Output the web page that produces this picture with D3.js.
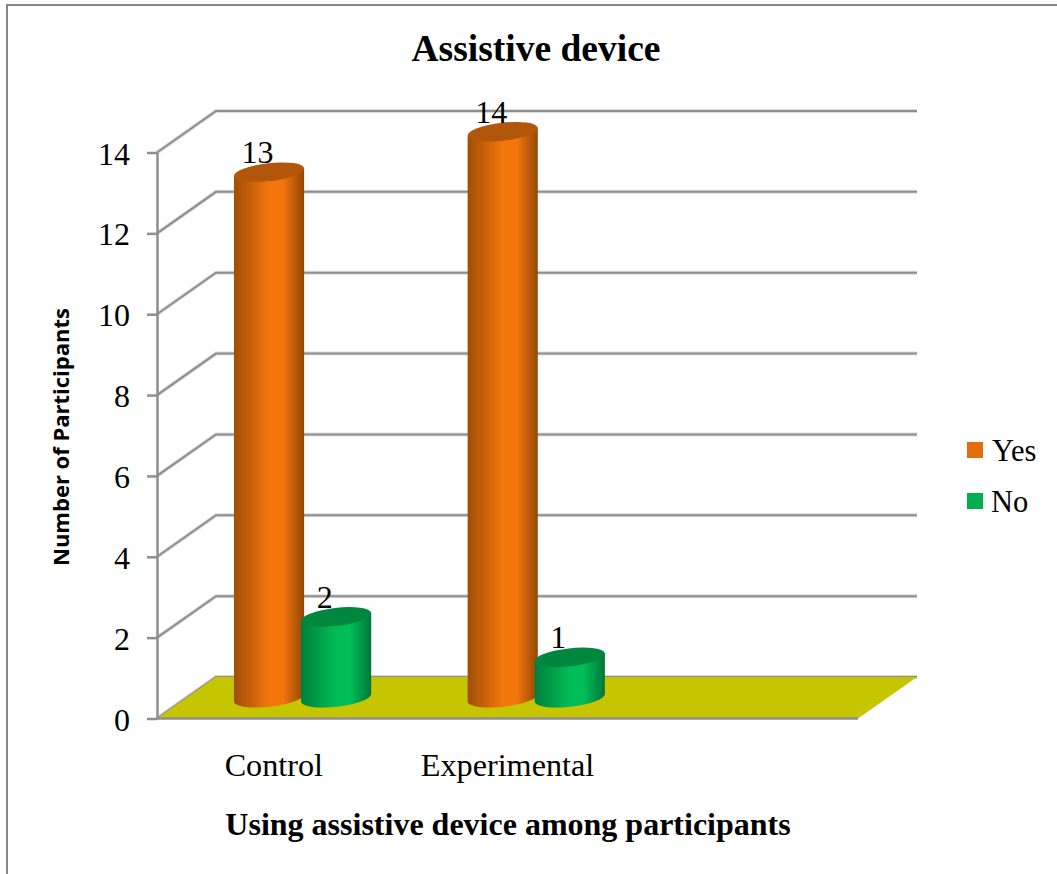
<!DOCTYPE html>
<html>
<head>
<meta charset="utf-8">
<script src="https://cdnjs.cloudflare.com/ajax/libs/d3/7.8.5/d3.min.js"></script>
<style>
html,body{margin:0;padding:0;background:#fff;overflow:hidden}
svg{display:block}
text{fill:#000}
.serif{font-family:"Liberation Serif","Times New Roman",serif}
</style>
</head>
<body>
<svg id="chart" width="1057" height="874"></svg>
<script>
// Chart content
const chartTitle = "Assistive device";
const xTitle = "Using assistive device among participants";
const yTitle = "Number of Participants";
const categories = ["Control", "Experimental", ""];
const seriesNames = ["Yes", "No"];
const yesValues = [13, 14];
const noValues = [2, 1];
const yTicks = [0, 2, 4, 6, 8, 10, 12, 14];

const seriesStyle = {
  Yes: {swatch: "#e46c0a", top: "#b25709", edge: "#a04e06", mid: "#f3750c", edgeR: "#934704"},
  No:  {swatch: "#00b050", top: "#00873f", edge: "#007f3b", mid: "#00bd57", edgeR: "#00773a"}
};

const svg = d3.select("#chart");

// Oblique projection: the front plane plus a depth vector for the back wall
const front = {left: 157, right: 858, bottom: 718.5, top: 152.5};
const depth = {dx: 59, dy: -41.5};
const x = d3.scaleBand().domain(categories).range([front.left, front.right]);
const y = d3.scaleLinear().domain([0, 14]).range([front.bottom, front.top]);

// Chart-area frame (top and left edges are the visible ones)
svg.append("path")
  .attr("d", "M7,874V5H1057")
  .attr("fill", "none").attr("stroke", "#878787").attr("stroke-width", 2);

const defs = svg.append("defs");
seriesNames.forEach(name => {
  const s = seriesStyle[name];
  const g = defs.append("linearGradient").attr("id", "cyl-" + name);
  [[0, s.edge], [0.5, s.mid], [0.7, s.mid], [1, s.edgeR]].forEach(([o, c]) =>
    g.append("stop").attr("offset", o).attr("stop-color", c));
});

// Wall gridlines, each with a soft pale halo
const wall = svg.append("g").attr("fill", "none");
const wallPath = v => `M${front.left},${y(v)}L${front.left + depth.dx},${y(v) + depth.dy}H${front.right + depth.dx}`;
[["#dcdcdc", 4], ["#8e8e8e", 2]].forEach(([stroke, w]) => {
  wall.selectAll(null).data(yTicks).join("path")
    .attr("d", wallPath).attr("stroke", stroke).attr("stroke-width", w);
});

// Floor
svg.append("path")
  .attr("d", `M${front.left},${y(0)}L${front.left + depth.dx},${y(0) + depth.dy}H${front.right + depth.dx}L${front.right},${y(0)}Z`)
  .attr("fill", "#c5c500");

// Value axis
const yAxis = svg.append("g")
  .attr("class", "serif")
  .attr("transform", `translate(${front.left},0)`)
  .call(d3.axisLeft(y).tickValues(yTicks).tickSize(10).tickPadding(17).tickSizeOuter(0));
yAxis.selectAll("path,line").attr("stroke", "#8e8e8e").attr("stroke-width", 2.5);
yAxis.selectAll("text").attr("font-size", 32).attr("font-family", "Liberation Serif").attr("dy", "0.36em");

// Floor front edge
svg.append("line")
  .attr("x1", front.left).attr("x2", front.right)
  .attr("y1", y(0)).attr("y2", y(0))
  .attr("stroke", "#8e8e8e").attr("stroke-width", 2.5);

// Cylinders stand midway along the depth vector
const offsetX = depth.dx / 2, offsetY = depth.dy / 2;
const rx = 35.3, ry = 9, tilt = -6.5;
const seriesOffset = {Yes: -34.3, No: 32.8};
const tiltRad = tilt * Math.PI / 180;
const ex = rx * Math.cos(tiltRad), ey = rx * Math.sin(tiltRad);

const bars = [];
categories.slice(0, 2).forEach((c, i) => {
  bars.push({cat: c, name: "Yes", value: yesValues[i]});
  bars.push({cat: c, name: "No", value: noValues[i]});
});

const barG = svg.append("g").selectAll("g").data(bars).join("g")
  .attr("transform", d => `translate(${x(d.cat) + x.bandwidth() / 2 + offsetX + seriesOffset[d.name]},0)`);

barG.append("path")
  .attr("fill", d => `url(#cyl-${d.name})`)
  .attr("d", d => {
    const yt = y(d.value) + offsetY, yb = y(0) + offsetY;
    return `M${-ex},${yt - ey}L${ex},${yt + ey}L${ex},${yb + ey}` +
      `A${rx},${ry} ${tilt} 0 1 ${-ex},${yb - ey}Z`;
  });

barG.append("ellipse")
  .attr("rx", rx).attr("ry", ry)
  .attr("transform", d => `translate(0,${y(d.value) + offsetY}) rotate(${tilt})`)
  .attr("fill", d => seriesStyle[d.name].top);

// Data labels
barG.append("text")
  .attr("class", "serif")
  .attr("x", -11.5)
  .attr("y", d => y(d.value) + offsetY - 9)
  .attr("text-anchor", "middle")
  .attr("font-size", 32)
  .text(d => d.value);

// Category labels
svg.append("g").attr("class", "serif").selectAll("text")
  .data(categories.filter(c => c)).join("text")
  .attr("x", d => x(d) + x.bandwidth() / 2)
  .attr("y", 776)
  .attr("text-anchor", "middle")
  .attr("font-size", 32.2)
  .text(d => d);

// Titles
svg.append("text").attr("class", "serif")
  .attr("x", 536).attr("y", 61).attr("text-anchor", "middle")
  .attr("font-size", 37.5).attr("font-weight", "bold").text(chartTitle);

svg.append("text").attr("class", "serif")
  .attr("x", 508).attr("y", 835).attr("text-anchor", "middle")
  .attr("font-size", 32).attr("font-weight", "bold").text(xTitle);

svg.append("text")
  .attr("transform", "translate(69,437) rotate(-90)")
  .attr("text-anchor", "middle")
  .attr("font-family", "Open Sans")
  .attr("font-size", 22).attr("font-weight", "bold").text(yTitle);

// Legend
const legend = svg.append("g").attr("class", "serif").selectAll("g")
  .data(seriesNames).join("g")
  .attr("transform", (d, i) => `translate(967,${442 + i * 51})`);
legend.append("rect").attr("width", 16).attr("height", 16)
  .attr("fill", d => seriesStyle[d].swatch);
legend.append("text").attr("x", d => d === "Yes" ? 25 : 24).attr("y", 18.5)
  .attr("font-size", 30.5).text(d => d);
</script>
</body>
</html>
